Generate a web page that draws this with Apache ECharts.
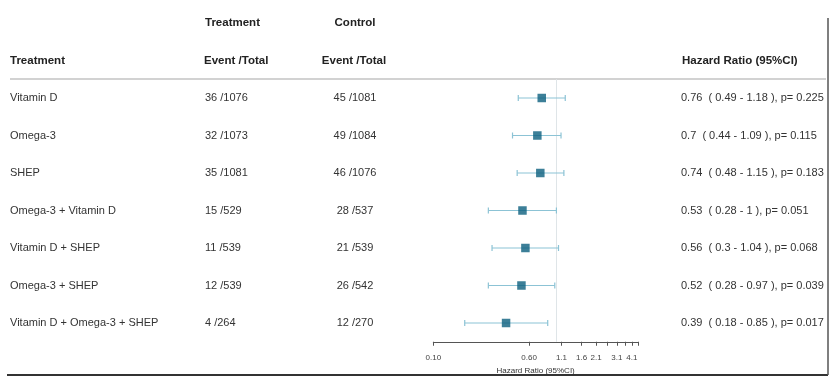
<!DOCTYPE html>
<html>
<head>
<meta charset="utf-8">
<script src="https://cdn.jsdelivr.net/npm/echarts@6/dist/echarts.min.js"></script>
<style>
  html, body { margin: 0; padding: 0; background: #fff; }
  #chart { width: 830px; height: 377px; }
</style>
</head>
<body>
<div id="chart"></div>
<script>
const groups = ['Vitamin D', 'Omega-3', 'SHEP', 'Omega-3 + Vitamin D', 'Vitamin D + SHEP', 'Omega-3 + SHEP', 'Vitamin D + Omega-3 + SHEP'];
const treatEvents = [36, 32, 35, 15, 11, 12, 4];
const treatTotals = [1076, 1073, 1081, 529, 539, 539, 264];
const ctrlEvents = [45, 49, 46, 28, 21, 26, 12];
const ctrlTotals = [1081, 1084, 1076, 537, 539, 542, 270];
const hr = [0.76, 0.7, 0.74, 0.53, 0.56, 0.52, 0.39];
const ciLow = [0.49, 0.44, 0.48, 0.28, 0.3, 0.28, 0.18];
const ciHigh = [1.18, 1.09, 1.15, 1, 1.04, 0.97, 0.85];
const pValues = ['0.225', '0.115', '0.183', '0.051', '0.068', '0.039', '0.017'];
const tickValues = [0.1, 0.6, 1.1, 1.6, 2.1, 2.6, 3.1, 3.6, 4.1, 4.6];
const tickLabels = [0.1, 0.6, 1.1, 1.6, 2.1, 3.1, 4.1];

const FONT = "'Liberation Sans', Arial, sans-serif";
const chart = echarts.init(document.getElementById('chart'));

// one category axis per text column, all sharing the plot grid rows
function textAxis(position, offset, align, fmt) {
  return {
    type: 'category',
    data: groups,
    inverse: true,
    position: position,
    offset: offset,
    axisLine: { show: false },
    axisTick: { show: false },
    splitLine: { show: false },
    axisLabel: {
      margin: 0,
      align: align,
      color: '#333',
      fontSize: 11,
      fontFamily: FONT,
      formatter: (v, i) => fmt(i)
    }
  };
}

const header = (text, left, top, align) => ({
  text: text,
  left: left,
  top: top,
  padding: 0,
  textAlign: align || 'left',
  textStyle: { fontSize: 11.5, fontWeight: 'bold', color: '#222', fontFamily: FONT }
});

const option = {
  animation: false,
  backgroundColor: '#fff',
  title: [
    header('Treatment', 205, 17),
    header('Control', 355, 17, 'center'),
    header('Treatment', 10, 55),
    header('Event /Total', 204, 55),
    header('Event /Total', 354, 55, 'center'),
    header('Hazard Ratio (95%CI)', 682, 55)
  ],
  grid: { left: 433.3, right: 192, top: 79.25, bottom: 35.25, outerBoundsMode: 'none', containLabel: false },
  xAxis: {
    type: 'log',
    logBase: 10,
    min: 0.1,
    max: 4.6,
    name: 'Hazard Ratio (95%CI)',
    nameLocation: 'middle',
    nameGap: 25,
    nameTextStyle: { fontSize: 8, color: '#333', fontFamily: FONT },
    splitLine: { show: false },
    axisLine: { show: true, lineStyle: { color: '#555', width: 1 } },
    axisTick: { show: true, customValues: tickValues, length: 4, lineStyle: { color: '#555' } },
    axisLabel: {
      customValues: tickLabels,
      margin: 12,
      fontSize: 8,
      color: '#444',
      fontFamily: FONT,
      formatter: v => (v < 1 ? v.toFixed(2) : v.toFixed(1))
    }
  },
  yAxis: [
    {
      type: 'category',
      data: groups,
      inverse: true,
      axisLine: { show: false },
      axisTick: { show: false },
      axisLabel: { show: false },
      splitLine: { show: false }
    },
    textAxis('left', 423.3, 'left', i => groups[i]),
    textAxis('left', 228.3, 'left', i => treatEvents[i] + ' /' + treatTotals[i]),
    textAxis('left', 78.3, 'center', i => ctrlEvents[i] + ' /' + ctrlTotals[i]),
    textAxis('right', 43, 'left', i => hr[i] + '  ( ' + ciLow[i] + ' - ' + ciHigh[i] + ' ), p= ' + pValues[i])
  ],
  series: [
    {
      type: 'custom',
      silent: true,
      data: groups.map((g, i) => [ciLow[i], ciHigh[i], i]),
      renderItem: (params, api) => {
        const a = api.coord([api.value(0), api.value(2)]);
        const b = api.coord([api.value(1), api.value(2)]);
        const style = { stroke: '#8cc3d5', lineWidth: 1.2 };
        return {
          type: 'group',
          children: [
            { type: 'line', shape: { x1: a[0], y1: a[1], x2: b[0], y2: b[1] }, style: style },
            { type: 'line', shape: { x1: a[0], y1: a[1] - 3, x2: a[0], y2: a[1] + 3 }, style: style },
            { type: 'line', shape: { x1: b[0], y1: b[1] - 3, x2: b[0], y2: b[1] + 3 }, style: style }
          ]
        };
      },
      z: 2
    },
    {
      type: 'scatter',
      symbol: 'rect',
      symbolSize: 8.5,
      itemStyle: { color: '#0b5f7e' },
      data: groups.map((g, i) => [hr[i], i]),
      z: 3,
      markLine: {
        silent: true,
        symbol: 'none',
        label: { show: false },
        lineStyle: { color: '#dfe5e8', width: 1, type: 'solid' },
        data: [{ xAxis: 1 }],
        z: 1
      }
    }
  ],
  graphic: [
    { type: 'line', shape: { x1: 10, y1: 79, x2: 826, y2: 79 }, style: { stroke: '#d2d2d2', lineWidth: 2 } },
    { type: 'line', shape: { x1: 7, y1: 375, x2: 828, y2: 375 }, style: { stroke: '#333', lineWidth: 2 } },
    { type: 'line', shape: { x1: 828, y1: 18, x2: 828, y2: 375 }, style: { stroke: '#555', lineWidth: 1.5 } }
  ]
};

chart.setOption(option);
</script>
</body>
</html>
